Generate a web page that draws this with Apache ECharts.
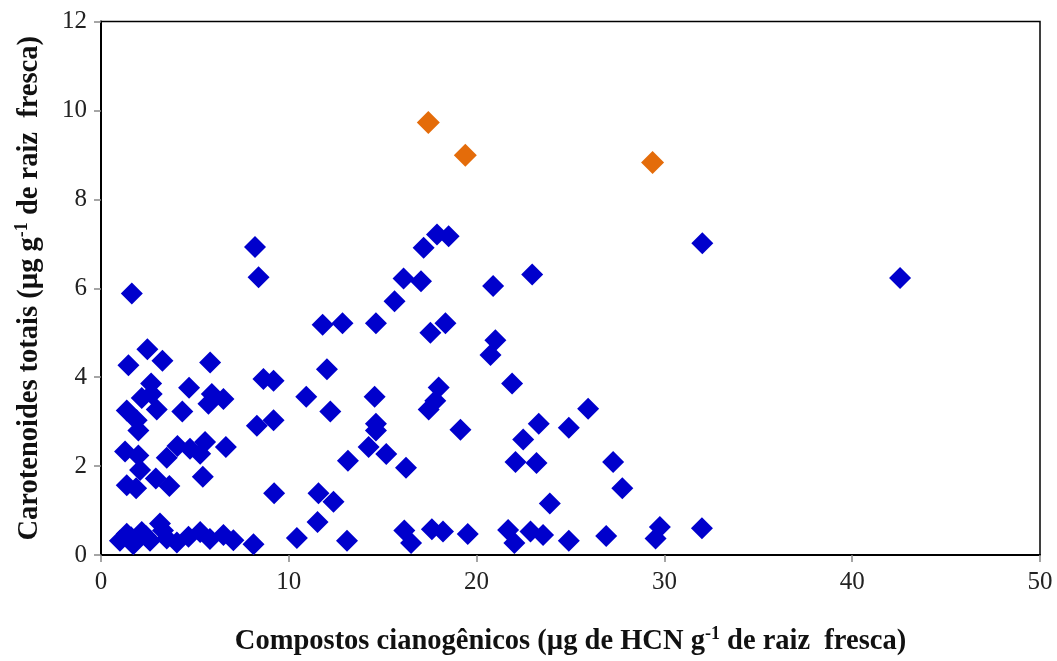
<!DOCTYPE html>
<html>
<head>
<meta charset="utf-8">
<script src="https://cdn.jsdelivr.net/npm/echarts@6/dist/echarts.min.js"></script>
<style>html,body{margin:0;padding:0;background:#fff;}#c{width:1057px;height:661px;}</style>
</head>
<body>
<div id="c"></div>
<script>
// x: Compostos cianogênicos, y: Carotenoides totais
const bluePoints = [
  [1.64,5.88],[8.2,6.93],[8.39,6.25],[2.47,4.63],[1.46,4.27],[3.27,4.37],[5.81,4.33],
  [8.65,3.96],[9.19,3.92],[2.67,3.86],[4.69,3.76],[2.17,3.53],[2.7,3.62],[5.9,3.62],
  [6.52,3.51],[5.72,3.40],[2.97,3.27],[1.37,3.25],[4.33,3.23],[1.90,3.03],[1.99,2.80],
  [8.3,2.91],[9.19,3.03],[1.28,2.33],[1.99,2.24],[2.08,1.91],[3.5,2.19],[4.07,2.45],
  [4.74,2.39],[5.28,2.28],[5.54,2.54],[6.65,2.43],[1.37,1.57],[1.87,1.50],[2.92,1.72],
  [3.64,1.55],[5.42,1.76],[9.22,1.39],
  [1.01,0.32],[1.37,0.48],[1.72,0.24],[2.17,0.52],[2.61,0.32],[3.14,0.71],[3.5,0.37],
  [4.04,0.28],[4.66,0.41],[5.28,0.52],[5.8,0.36],[6.52,0.45],[7.05,0.33],[8.12,0.24],
  [2.4,0.42],[3.3,0.55],[1.6,0.40],
  [17.89,7.21],[18.51,7.17],[17.18,6.91],[16.11,6.22],[17.04,6.16],[15.63,5.71],
  [11.8,5.18],[12.86,5.21],[14.64,5.21],[17.54,5.0],[18.34,5.21],[12.03,4.18],
  [10.93,3.56],[14.57,3.56],[12.21,3.23],[17.98,3.77],[17.8,3.47],[17.45,3.27],
  [19.14,2.82],[14.64,2.95],[14.64,2.80],[14.25,2.43],[15.19,2.27],[13.15,2.12],
  [16.24,1.96],[11.58,1.39],[12.38,1.20],[11.53,0.74],[10.43,0.38],[13.1,0.32],
  [16.15,0.55],[16.51,0.27],[17.62,0.58],[18.21,0.53],[19.53,0.47],
  [22.96,6.31],[20.88,6.05],[21.0,4.83],[20.74,4.50],[21.89,3.86],[25.94,3.29],
  [23.31,2.95],[24.91,2.86],[22.48,2.60],[22.07,2.09],[23.19,2.07],[27.27,2.09],
  [27.76,1.50],[23.9,1.16],[21.68,0.56],[22.01,0.27],[22.87,0.53],[23.54,0.45],
  [24.91,0.32],[26.9,0.43],[29.76,0.63],[29.53,0.37],[32.0,0.60],[32.02,7.01],
  [42.55,6.23]
];
const orangePoints = [[17.43,9.73],[19.40,8.99],[29.37,8.83]];
const xTicks = {min:0, max:50, interval:10};
const yTicks = {min:0, max:12, interval:2};

const serif = '"Liberation Serif", "DejaVu Serif", serif';
const chart = echarts.init(document.getElementById('c'), null, {renderer:'canvas'});
const richName = {
  b:{fontFamily:serif, fontSize:28.5, fontWeight:'bold', color:'#111', lineHeight:31, verticalAlign:'bottom'},
  s:{fontFamily:serif, fontSize:18, fontWeight:'bold', color:'#111', lineHeight:31, verticalAlign:'top'}
};
chart.setOption({
  backgroundColor:'#fff',
  animation:false,
  grid:{left:101, right:17, top:21.5, bottom:98, show:true, borderColor:'#000', borderWidth:1.5, containLabel:false},
  xAxis:{
    type:'value', min:xTicks.min, max:xTicks.max, interval:xTicks.interval,
    splitLine:{show:false},
    axisLine:{show:true, onZero:false, lineStyle:{color:'#000', width:2}},
    axisTick:{show:true, inside:false, length:7, lineStyle:{color:'#888', width:1.5}},
    axisLabel:{margin:15, fontFamily:serif, fontSize:25, color:'#222'},
    name:'{b|Compostos cianogênicos (µg de HCN g}{s|-1}{b| de raiz  fresca)}',
    nameLocation:'middle', nameGap:70,
    nameTextStyle:{rich:richName}
  },
  yAxis:{
    type:'value', min:yTicks.min, max:yTicks.max, interval:yTicks.interval,
    splitLine:{show:false},
    axisLine:{show:true, onZero:false, lineStyle:{color:'#000', width:2}},
    axisTick:{show:true, inside:false, length:7, lineStyle:{color:'#888', width:1.5}},
    axisLabel:{margin:14, fontFamily:serif, fontSize:25, color:'#222'},
    name:'{b|Carotenoides totais (µg g}{s|-1}{b| de raiz  fresca)}',
    nameLocation:'middle', nameGap:57, nameRotate:90,
    nameTextStyle:{rich:richName}
  },
  series:[
    {type:'scatter', symbol:'diamond', symbolSize:22, data:bluePoints,
     itemStyle:{color:'#0000CC', opacity:1}},
    {type:'scatter', symbol:'diamond', symbolSize:23, data:orangePoints,
     itemStyle:{color:'#E46C0A', opacity:1}}
  ]
});
</script>
</body>
</html>
